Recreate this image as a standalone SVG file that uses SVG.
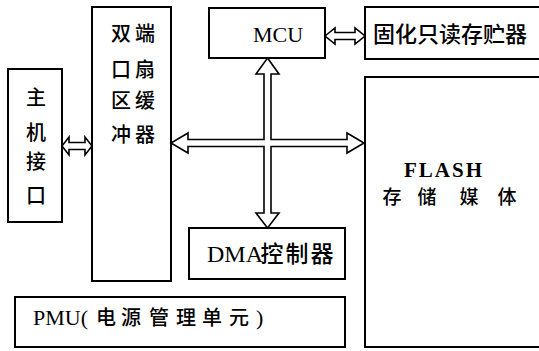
<svg xmlns="http://www.w3.org/2000/svg" width="539" height="351" viewBox="0 0 539 351">
<style>
.box{fill:#fff;stroke:#000;stroke-width:2}
.arr{fill:#fff;stroke:#000;stroke-width:1.6;stroke-linejoin:miter}
.t{font-family:"Liberation Serif","Noto Sans CJK SC",serif;fill:#000;font-weight:bold}
.c{font-family:"Noto Sans CJK SC","Liberation Serif",sans-serif;fill:#000;text-anchor:middle;font-weight:500}
</style>
<rect width="539" height="351" fill="#fff"/>
<g id="host">
<rect class="box" x="8" y="69" width="54" height="153"/>
<text class="c" font-size="20" x="36" y="105">主</text>
<text class="c" font-size="20" x="36" y="140">机</text>
<text class="c" font-size="20" x="36" y="169">接</text>
<text class="c" font-size="20" x="36" y="203">口</text>
</g>
<g id="buffer">
<rect class="box" x="92" y="7" width="79" height="274"/>
<text class="c" font-size="20" x="121" y="41">双</text>
<text class="c" font-size="20" x="145" y="41">端</text>
<text class="c" font-size="20" x="121" y="77">口</text>
<text class="c" font-size="20" x="145" y="77">扇</text>
<text class="c" font-size="20" x="121" y="108">区</text>
<text class="c" font-size="20" x="145" y="108">缓</text>
<text class="c" font-size="20" x="121" y="142">冲</text>
<text class="c" font-size="20" x="145" y="142">器</text>
</g>
<g id="mcu">
<rect class="box" x="209" y="8" width="116" height="50"/>
<text class="t" font-size="22" x="278" y="42" text-anchor="middle" style="font-weight:normal">MCU</text>
</g>
<g id="rom">
<rect class="box" x="365" y="7" width="180" height="52"/>
<text class="c" font-size="22" x="450" y="42" text-anchor="middle">固化只读存贮器</text>
</g>
<g id="flash">
<rect class="box" x="365" y="77" width="180" height="270"/>
<text class="t" font-size="21" letter-spacing="2" x="444" y="177" text-anchor="middle">FLASH</text>
<text class="c" font-size="19" x="392" y="204">存</text>
<text class="c" font-size="19" x="427" y="204">储</text>
<text class="c" font-size="19" x="469" y="204">媒</text>
<text class="c" font-size="19" x="507" y="204">体</text>
</g>
<g id="dma">
<rect class="box" x="189" y="228" width="156" height="51"/>
<text class="t" font-size="24" x="207" y="262" style="font-weight:normal">DMA</text>
<text class="c" font-size="23" x="272" y="262">控</text>
<text class="c" font-size="23" x="297" y="262">制</text>
<text class="c" font-size="23" x="322" y="262">器</text>
</g>
<g id="pmu">
<rect class="box" x="15" y="297" width="330" height="50"/>
<text class="t" font-size="22" x="33" y="325" style="font-weight:normal">PMU(</text>
<text class="c" font-size="20" x="106" y="325">电</text>
<text class="c" font-size="20" x="131" y="325">源</text>
<text class="c" font-size="20" x="159" y="325">管</text>
<text class="c" font-size="20" x="186" y="325">理</text>
<text class="c" font-size="20" x="212" y="325">单</text>
<text class="c" font-size="20" x="239" y="325">元</text>
<text class="t" font-size="22" x="256" y="325" style="font-weight:normal">)</text>
</g>
<g id="connectors">
<polygon class="arr" points="62,146 69,137 69,142.5 85,142.5 85,137 92,146 85,155 85,149.5 69,149.5 69,155"/>
<polygon class="arr" points="325,36 335,28 335,32.5 355,32.5 355,28 365,36 355,44 355,39.5 335,39.5 335,44"/>
<polygon class="arr" points="267.5,58 279,74 271,74 271,139.5 347,139.5 347,133 364,143 347,153 347,146.5 271,146.5 271,213 279,213 267.5,228 256,213 264,213 264,146.5 188,146.5 188,153 171,143 188,133 188,139.5 264,139.5 264,74 256,74"/>
</g>
</svg>
